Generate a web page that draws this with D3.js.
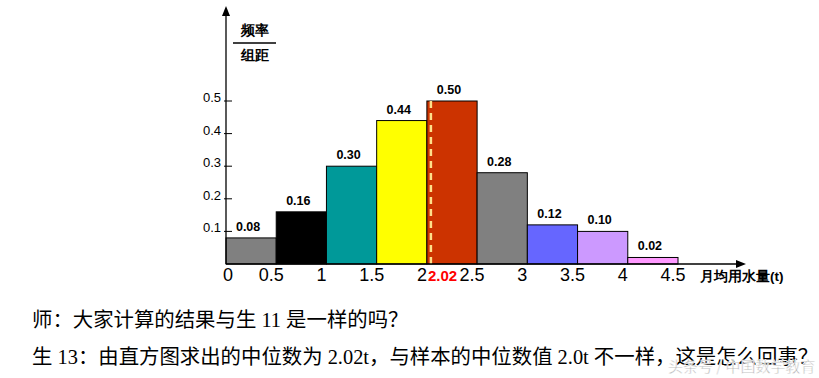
<!DOCTYPE html>
<html>
<head>
<meta charset="utf-8">
<script src="https://cdn.jsdelivr.net/npm/d3@7"></script>
<style>
  body { margin: 0; background: #fff; }
  svg { display: block; }
</style>
</head>
<body>
<div id="chart"></div>
<script>
// group edges (t) and frequency/width per group
const binStarts = [0, 0.5, 1, 1.5, 2, 2.5, 3, 3.5, 4];
const binWidth = 0.5;
const freqs = [0.08, 0.16, 0.30, 0.44, 0.50, 0.28, 0.12, 0.10, 0.02];
const freqLabels = ['0.08', '0.16', '0.30', '0.44', '0.50', '0.28', '0.12', '0.10', '0.02'];
const barColors = ['#808080', '#000000', '#009999', '#ffff00', '#cc3300', '#808080', '#6666ff', '#cc99ff', '#ff99ff'];
const yTicks = [0.1, 0.2, 0.3, 0.4, 0.5];
const xTicks = [0, 0.5, 1, 1.5, 2, 2.5, 3, 3.5, 4, 4.5];
const median = 2.02;
const lines = [
  '师：大家计算的结果与生 11 是一样的吗？',
  '生 13：由直方图求出的中位数为 2.02t，与样本的中位数值 2.0t 不一样，这是怎么回事？'
];

const width = 819, height = 378;
const svg = d3.select('#chart').append('svg').attr('width', width).attr('height', height);

const x = d3.scaleLinear().domain([0, 4.5]).range([226, 678]);
const y = d3.scaleLinear().domain([0, 0.5]).range([264, 101]);
const sans = 'Arial, "Liberation Sans", sans-serif';

// bars
svg.selectAll('rect.bar').data(freqs).enter().append('rect')
  .attr('class', 'bar')
  .attr('x', function(d, i) { return x(binStarts[i]); })
  .attr('y', function(d) { return y(d); })
  .attr('width', function(d, i) { return x(binStarts[i] + binWidth) - x(binStarts[i]); })
  .attr('height', function(d) { return y(0) - y(d); })
  .attr('fill', function(d, i) { return barColors[i]; })
  .attr('stroke', '#000')
  .attr('stroke-width', 1);

// value labels
svg.selectAll('text.val').data(freqs).enter().append('text')
  .attr('class', 'val')
  .attr('x', function(d, i) { return x(binStarts[i] + binWidth / 2) - 3; })
  .attr('y', function(d) { return y(d) - 7; })
  .attr('text-anchor', 'middle')
  .attr('font-family', sans)
  .attr('font-weight', 'bold')
  .attr('font-size', 12.5)
  .text(function(d, i) { return freqLabels[i]; });

// median dashed line
svg.append('line')
  .attr('x1', x(median) + 2).attr('x2', x(median) + 2)
  .attr('y1', y(freqs[4])).attr('y2', y(0))
  .attr('stroke', '#ffe08a')
  .attr('stroke-width', 2.5)
  .attr('stroke-dasharray', '7,5');

// axes
svg.append('line')
  .attr('x1', x(0)).attr('x2', x(0))
  .attr('y1', y(0)).attr('y2', 12)
  .attr('stroke', '#000').attr('stroke-width', 1.3);
svg.append('path')
  .attr('d', 'M' + x(0) + ',6 l-4,10 l8,0 z')
  .attr('fill', '#000');
svg.append('line')
  .attr('x1', x(0)).attr('x2', 740)
  .attr('y1', y(0)).attr('y2', y(0))
  .attr('stroke', '#000').attr('stroke-width', 1.3);
svg.append('path')
  .attr('d', 'M746,' + y(0) + ' l-10,-4 l0,8 z')
  .attr('fill', '#000');

// y ticks
const yt = svg.selectAll('g.ytick').data(yTicks).enter().append('g').attr('class', 'ytick');
yt.append('line')
  .attr('x1', x(0) - 2).attr('x2', x(0) + 6)
  .attr('y1', function(d) { return y(d); }).attr('y2', function(d) { return y(d); })
  .attr('stroke', '#000');
yt.append('text')
  .attr('x', x(0) - 5)
  .attr('y', function(d) { return y(d) + 1; })
  .attr('text-anchor', 'end')
  .attr('font-family', sans)
  .attr('font-size', 13)
  .text(function(d) { return d; });

// x tick labels
svg.selectAll('text.xtick').data(xTicks).enter().append('text')
  .attr('class', 'xtick')
  .attr('x', function(d) { return d === 0 ? x(d) + 2 : x(d) - 5; })
  .attr('y', 281)
  .attr('text-anchor', 'middle')
  .attr('font-family', sans)
  .attr('font-size', 18)
  .text(function(d) { return d; });

svg.append('text')
  .attr('x', x(median) - 1).attr('y', 281)
  .attr('fill', '#ff0000')
  .attr('font-family', sans)
  .attr('font-weight', 'bold')
  .attr('font-size', 15)
  .text(median);

// axis titles
svg.append('text')
  .attr('x', 700).attr('y', 281)
  .attr('font-family', sans)
  .attr('font-weight', 'bold')
  .attr('font-size', 13.5)
  .text('月均用水量(t)');

svg.append('text')
  .attr('x', 255).attr('y', 35)
  .attr('text-anchor', 'middle')
  .attr('font-family', sans).attr('font-weight', 'bold').attr('font-size', 14)
  .text('频率');
svg.append('line')
  .attr('x1', 233).attr('x2', 276).attr('y1', 43).attr('y2', 43)
  .attr('stroke', '#000').attr('stroke-width', 1.5);
svg.append('text')
  .attr('x', 255).attr('y', 60)
  .attr('text-anchor', 'middle')
  .attr('font-family', sans).attr('font-weight', 'bold').attr('font-size', 14)
  .text('组距');

// paragraph text
svg.selectAll('text.para').data(lines).enter().append('text')
  .attr('class', 'para')
  .attr('x', 32)
  .attr('y', function(d, i) { return 327 + i * 37; })
  .attr('font-family', '"Liberation Serif", "Noto Sans CJK SC", serif')
  .attr('font-size', 20.4)
  .text(function(d) { return d; });

// watermark
svg.append('text')
  .attr('x', 668).attr('y', 372)
  .attr('font-family', '"Noto Sans CJK SC", sans-serif')
  .attr('font-size', 15)
  .attr('fill', '#aaaaaa')
  .attr('stroke', '#fff').attr('stroke-width', 0.5)
  .text('头条号 / 中国数学教育');
</script>
</body>
</html>
